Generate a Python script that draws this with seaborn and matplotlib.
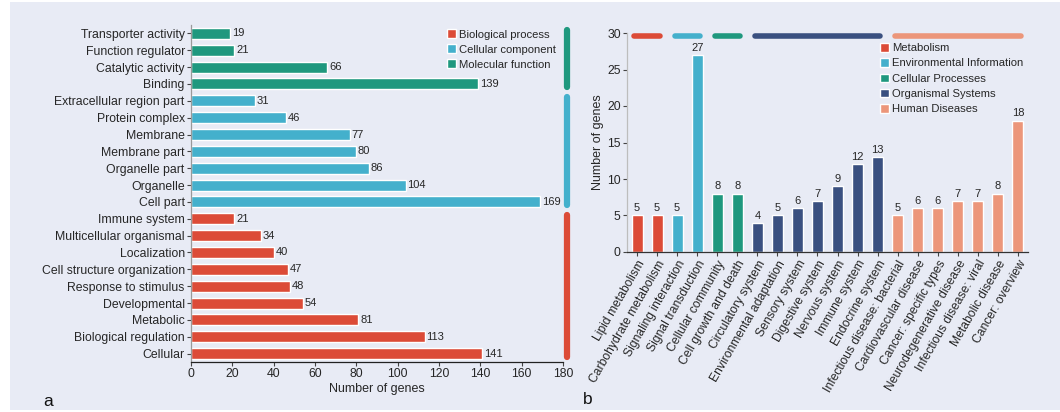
import matplotlib
matplotlib.use("Agg")
import matplotlib.pyplot as plt
import seaborn as sns
import pandas as pd
from matplotlib.patches import Patch, Rectangle

# ---- GO annotation (panel a), listed top to bottom ----
go_terms = [
    "Transporter activity", "Function regulator", "Catalytic activity", "Binding",
    "Extracellular region part", "Protein complex", "Membrane", "Membrane part",
    "Organelle part", "Organelle", "Cell part",
    "Immune system", "Multicellular organismal", "Localization",
    "Cell structure organization", "Response to stimulus", "Developmental",
    "Metabolic", "Biological regulation", "Cellular",
]
go_counts = [19, 21, 66, 139, 31, 46, 77, 80, 86, 104, 169,
             21, 34, 40, 47, 48, 54, 81, 113, 141]
go_groups = (["Molecular function"] * 4 + ["Cellular component"] * 7
             + ["Biological process"] * 9)
go_group_order = ["Biological process", "Cellular component", "Molecular function"]

# ---- KEGG pathways (panel b) ----
kegg_terms = [
    "Lipid metabolism", "Carbohydrate metabolism", "Signaling interaction",
    "Signal transduction", "Cellular community", "Cell growth and death",
    "Circulatory system", "Environmental adaptation", "Sensory system",
    "Digestive system", "Nervous system", "Immune system", "Endocrine system",
    "Infectious disease: bacterial", "Cardiovascular disease",
    "Cancer: specific types", "Neurodegenerative disease",
    "Infectious disease: viral", "Metabolic disease", "Cancer: overview",
]
kegg_counts = [5, 5, 5, 27, 8, 8, 4, 5, 6, 7, 9, 12, 13, 5, 6, 6, 7, 7, 8, 18]
kegg_groups = (["Metabolism"] * 2 + ["Environmental Information"] * 2
               + ["Cellular Processes"] * 2 + ["Organismal Systems"] * 7
               + ["Human Diseases"] * 7)
kegg_group_order = ["Metabolism", "Environmental Information", "Cellular Processes",
                    "Organismal Systems", "Human Diseases"]

RED, CYAN, GREEN, NAVY, SALMON = "#dc4b37", "#44b0cc", "#1f987e", "#3a5080", "#ec967a"
go_palette = {"Biological process": RED, "Cellular component": CYAN,
              "Molecular function": GREEN}
kegg_palette = {"Metabolism": RED, "Environmental Information": CYAN,
                "Cellular Processes": GREEN, "Organismal Systems": NAVY,
                "Human Diseases": SALMON}

BG = "#e8ebf5"
TXT = "#262626"

sns.set_style("ticks")
plt.rcParams.update({
    "font.family": ["Liberation Sans", "DejaVu Sans"],
    "axes.facecolor": BG,
    "text.color": TXT,
    "axes.labelcolor": TXT,
    "xtick.color": "#444444",
    "ytick.color": "#444444",
    "xtick.labelcolor": TXT,
    "ytick.labelcolor": TXT,
})

W, H = 1060, 412
fig = plt.figure(figsize=(W / 100, H / 100), dpi=100)
fig.patch.set_facecolor("white")
fig.patches.append(Rectangle((10 / W, 2 / H), 1 - 10 / W, 408 / H,
                             transform=fig.transFigure, facecolor=BG,
                             edgecolor="none", zorder=-10))

def fig_box(x0, y0, x1, y1):
    return [x0 / W, 1 - y1 / H, (x1 - x0) / W, (y1 - y0) / H]

# ---------------- panel a ----------------
ax1 = fig.add_axes(fig_box(191, 25, 563, 362))
df_go = pd.DataFrame({"term": go_terms, "count": go_counts, "group": go_groups})
sns.barplot(data=df_go, y="term", x="count", hue="group", hue_order=go_group_order,
            palette=go_palette, order=go_terms, dodge=False, width=0.65,
            legend=False, ax=ax1, saturation=1)
ax1.set_xlim(0, 180)
ax1.set_ylim(19.5, -0.5)
ax1.set_xticks(range(0, 181, 20))
ax1.set_ylabel("")
ax1.set_xlabel("Number of genes", fontsize=9)
ax1.xaxis.set_label_coords(0.5, -0.062)
ax1.tick_params(axis="x", labelsize=8.8, length=3, width=0.8, pad=1.5)
ax1.tick_params(axis="y", labelsize=8.8, length=3, width=0.8, pad=1.5)
for side in ("top", "right"):
    ax1.spines[side].set_visible(False)
ax1.spines["left"].set_color("#9a9a9a")
ax1.spines["bottom"].set_color("#222222")
for s in ("left", "bottom"):
    ax1.spines[s].set_linewidth(0.9)

for i, v in enumerate(go_counts):
    ax1.text(v + 0.8, i, str(v), va="center", ha="left", fontsize=8, color=TXT)

# group brackets on the right side of panel a
for grp in go_group_order:
    idx = [i for i, g in enumerate(go_groups) if g == grp]
    ax1.plot([182, 182], [min(idx) - 0.2, max(idx) + 0.2], color=go_palette[grp],
             lw=4.5, solid_capstyle="round", clip_on=False)

ax1.legend(handles=[Patch(facecolor=go_palette[g], label=g) for g in go_group_order],
           loc="upper left", bbox_to_anchor=(447 / W, 1 - 29.5 / H),
           bbox_transform=fig.transFigure, frameon=False, fontsize=8.1,
           handlelength=0.8, handleheight=0.8, handletextpad=0.25,
           labelspacing=0.42, borderpad=0, borderaxespad=0)

# ---------------- panel b ----------------
ax2 = fig.add_axes(fig_box(627, 33, 1028, 252))
df_kegg = pd.DataFrame({"term": kegg_terms, "count": kegg_counts, "group": kegg_groups})
sns.barplot(data=df_kegg, x="term", y="count", hue="group", hue_order=kegg_group_order,
            palette=kegg_palette, order=kegg_terms, dodge=False, width=0.55,
            legend=False, ax=ax2, saturation=1)
ax2.set_xlim(-0.5, 19.5)
ax2.set_ylim(0, 30)
ax2.set_yticks(range(0, 31, 5))
ax2.set_xlabel("")
ax2.set_ylabel("Number of genes", fontsize=9)
ax2.yaxis.set_label_coords(-0.057, 0.5)
ax2.tick_params(axis="y", labelsize=8.8, length=3, width=0.8, pad=1.5)
ax2.tick_params(axis="x", labelsize=8.7, length=3, width=0.8, pad=1.5)
plt.setp(ax2.get_xticklabels(), rotation=60, ha="right", rotation_mode="anchor")
for side in ("top", "right"):
    ax2.spines[side].set_visible(False)
ax2.spines["left"].set_color("#bdbdbd")
ax2.spines["bottom"].set_color("#333333")
for s in ("left", "bottom"):
    ax2.spines[s].set_linewidth(0.9)

for i, v in enumerate(kegg_counts):
    ax2.text(i, v + 0.3, str(v), ha="center", va="bottom", fontsize=8, color=TXT)

# group brackets along the top of panel b
for grp in kegg_group_order:
    idx = [i for i, g in enumerate(kegg_groups) if g == grp]
    ax2.plot([min(idx) - 0.13, max(idx) + 0.13], [29.6, 29.6], color=kegg_palette[grp],
             lw=4, solid_capstyle="round", clip_on=False)

ax2.legend(handles=[Patch(facecolor=kegg_palette[g], label=g) for g in kegg_group_order],
           loc="upper left", bbox_to_anchor=(880 / W, 1 - 43 / H),
           bbox_transform=fig.transFigure, frameon=False, fontsize=8.1,
           handlelength=0.8, handleheight=0.8, handletextpad=0.25,
           labelspacing=0.45, borderpad=0, borderaxespad=0)

# panel letters
fig.text(43 / W, 1 - 402 / H, "a", fontsize=12.5, va="center", ha="left", color="#111111")
fig.text(583 / W, 1 - 400 / H, "b", fontsize=12.5, va="center", ha="left", color="#111111")

fig.savefig("out.png", dpi=100, facecolor=fig.get_facecolor())
